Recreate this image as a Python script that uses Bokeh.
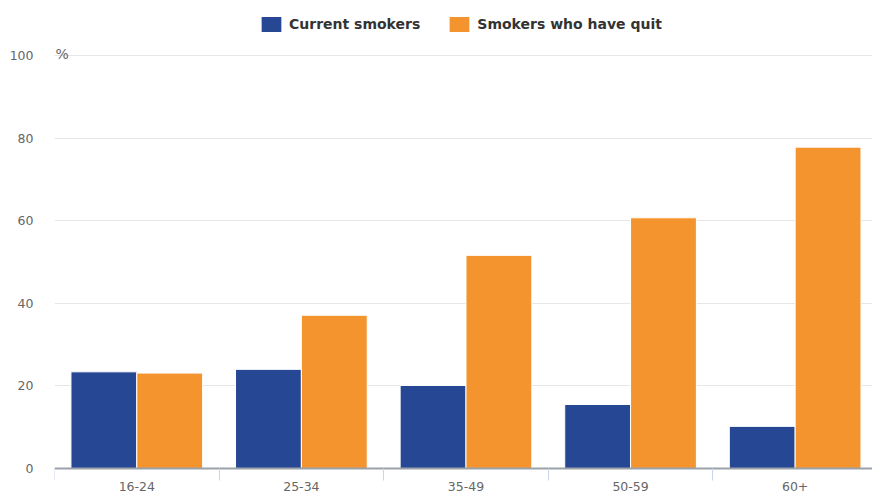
from bokeh.plotting import figure
from bokeh.models import (ColumnDataSource, Range1d, FixedTicker, Legend, LegendItem, Label)
from bokeh.transform import dodge
from bokeh.embed import file_html
from bokeh.resources import INLINE

categories = ["16-24", "25-34", "35-49", "50-59", "60+"]
current_smokers = [23.4, 24.0, 20.1, 15.5, 10.2]
quit_smokers = [23.1, 37.1, 51.6, 60.7, 77.8]
y_ticks = [0, 20, 40, 60, 80, 100]

BLUE = "#264794"
ORANGE = "#f4942f"
FONT = "DejaVu Sans"

centers = [i + 0.5 for i in range(len(categories))]
boundaries = list(range(len(categories) + 1))
src = ColumnDataSource(dict(x=centers, current=current_smokers, quit=quit_smokers))

p = figure(width=872, height=491, output_backend="svg", toolbar_location=None,
           x_range=Range1d(0, 4.97), y_range=Range1d(-5.57, 113.3),
           min_border_left=54, min_border_right=0, min_border_top=0, min_border_bottom=0)
p.outline_line_color = None
p.background_fill_color = "white"
p.border_fill_color = "white"

r1 = p.vbar(x=dodge("x", -0.2, range=p.x_range), top="current", width=0.4, source=src,
            fill_color=BLUE, line_color="white", line_width=1)
r2 = p.vbar(x=dodge("x", 0.2, range=p.x_range), top="quit", width=0.4, source=src,
            fill_color=ORANGE, line_color="white", line_width=1)

# y axis
p.yaxis.ticker = FixedTicker(ticks=y_ticks)
p.yaxis.axis_line_color = None
p.yaxis.major_tick_line_color = None
p.yaxis.minor_tick_line_color = None
p.yaxis.major_tick_out = 0
p.yaxis.major_label_standoff = 21
p.yaxis.major_label_text_font = FONT
p.yaxis.major_label_text_font_size = "12.5px"
p.yaxis.major_label_text_color = "#666666"

# x axis drawn at y = 0
xa = p.xaxis[0]
xa.fixed_location = 0
xa.ticker = FixedTicker(ticks=centers, minor_ticks=boundaries)
xa.major_label_overrides = {c: lab for c, lab in zip(centers, categories)}
xa.axis_line_color = "#9aa1a9"
xa.axis_line_width = 2
xa.major_tick_line_color = None
xa.major_tick_out = 12
xa.major_tick_in = 0
xa.minor_tick_line_color = "#ccd6eb"
xa.minor_tick_out = 12
xa.minor_tick_in = 0
xa.major_label_standoff = 2
xa.major_label_text_font = FONT
xa.major_label_text_font_size = "12.5px"
xa.major_label_text_color = "#666666"

p.xgrid.grid_line_color = None
p.ygrid.ticker = FixedTicker(ticks=y_ticks)
p.ygrid.grid_line_color = "#e6e6e6"
p.ygrid.grid_line_width = 1

pct = Label(x=0, y=100, text="%", x_offset=1, y_offset=1, text_baseline="alphabetic",
            text_font=FONT, text_font_size="14px", text_color="#666666")
p.add_layout(pct)

legend = Legend(items=[LegendItem(label="Current smokers", renderers=[r1]),
                       LegendItem(label="Smokers who have quit", renderers=[r2])],
                orientation="horizontal", location=(204, 457),
                glyph_width=26, glyph_height=20, label_standoff=5, spacing=26,
                padding=0, margin=0, border_line_color=None, background_fill_alpha=0,
                label_text_font=FONT, label_text_font_style="bold",
                label_text_font_size="14px", label_text_color="#333333",
                label_height=20)
p.add_layout(legend)

open("out.html", "w").write(file_html(p, INLINE))
